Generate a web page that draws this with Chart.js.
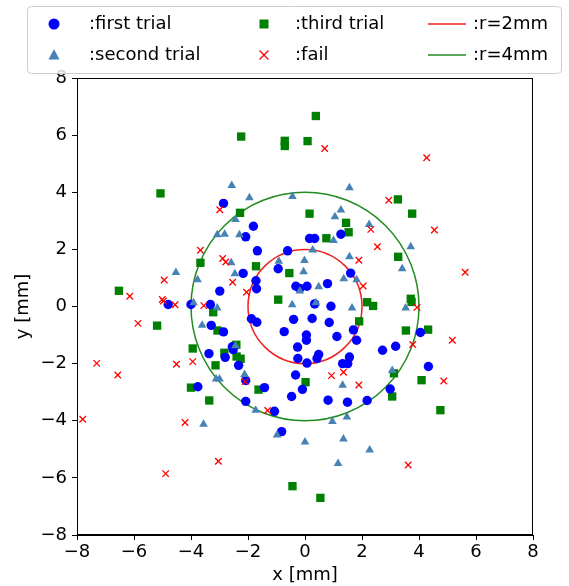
<!DOCTYPE html>
<html>
<head>
<meta charset="utf-8">
<script src="https://cdn.jsdelivr.net/npm/chart.js@4.4.1/dist/chart.umd.min.js"></script>
<style>
  html, body { margin: 0; padding: 0; background: #fff; }
  canvas { display: block; }
</style>
</head>
<body>
<canvas id="chartCanvas" width="569" height="586"></canvas>
<script>
// hit positions [x, y] in mm
const firstTrial = [
    [-2.86, 3.61], [-1.81, 2.81], [-2.08, 2.44], [-1.67, 1.95], [-0.61, 1.95],
    [0.16, 2.38], [0.34, 2.38], [1.26, 2.53], [-0.94, 1.32], [-2.17, 1.16],
    [-1.72, 0.90], [-1.70, 0.62], [-2.99, 0.54], [-0.32, 0.71], [-0.18, 0.63],
    [0.07, 0.71], [0.79, 0.80], [1.60, 1.17], [-4.80, 0.07], [-4.00, 0.07],
    [-3.32, 0.07], [0.34, 0.09], [0.91, 0.01], [-1.88, -0.43], [-1.69, -0.55],
    [-0.40, -0.45], [0.25, -0.42], [0.85, -0.56], [-0.73, -0.88], [0.05, -1.00],
    [0.05, -1.18], [1.12, -1.05], [1.70, -0.82], [1.81, -1.18], [-0.26, -1.42],
    [0.48, -1.68], [0.42, -1.82], [1.56, -1.77], [-0.25, -1.82], [0.07, -1.98],
    [1.32, -2.00], [1.50, -2.00], [2.72, -1.53], [3.18, -1.39], [4.05, -0.91],
    [4.33, -2.10], [-3.29, -0.66], [-2.86, -0.89], [-3.37, -1.65], [-2.55, -1.41],
    [-2.52, -1.51], [-2.80, -1.78], [-2.33, -2.06], [-2.08, -2.59], [-3.76, -2.81],
    [-1.42, -2.84], [-2.08, -3.32], [-1.07, -3.67], [-0.82, -4.38], [-0.33, -2.40],
    [-0.09, -2.90], [-0.47, -3.15], [0.81, -3.28], [1.49, -3.35], [2.18, -3.29],
    [2.99, -2.89]
];

const secondTrial = [
    [-2.57, 4.24], [-1.95, 3.81], [-0.44, 3.85], [-2.44, 3.05], [-3.08, 2.51],
    [-2.82, 2.53], [-2.30, 2.51], [-4.53, 1.19], [-3.77, 0.94], [-2.59, 1.53],
    [-2.46, 1.15], [-0.92, 1.58], [-0.02, 1.61], [-0.05, 1.22], [-0.18, 0.54],
    [-3.91, 0.13], [-3.08, -0.05], [-0.45, 0.06], [0.38, 0.13], [0.48, 0.69],
    [1.56, 4.16], [1.26, 3.38], [1.05, 3.14], [2.25, 2.87], [1.00, 2.31],
    [3.71, 2.09], [0.27, 1.98], [1.56, 1.74], [3.41, 1.32], [1.36, 0.97],
    [1.81, 0.94], [1.65, -0.05], [3.53, -0.05], [1.32, -2.76], [3.06, -2.24],
    [0.96, -4.03], [1.47, -3.87], [1.35, -4.64], [2.27, -5.02], [1.16, -5.50],
    [0.00, -4.74], [-3.61, -0.66], [-2.44, -1.37], [-2.12, -2.38], [-3.12, -2.54],
    [-3.00, -2.54], [-1.73, -3.63], [-3.56, -4.12], [-0.98, -4.50]
];

const thirdTrial = [
    [-2.24, 5.95], [-0.71, 5.80], [-0.71, 5.62], [0.09, 5.79], [0.38, 6.67],
    [-5.07, 3.96], [-2.28, 3.28], [0.16, 3.25], [3.26, 3.75], [3.76, 3.25],
    [1.44, 2.93], [1.53, 2.60], [0.75, 2.39], [-3.67, 1.53], [-1.72, 1.41],
    [-0.55, 1.17], [3.27, 1.74], [-6.53, 0.55], [-0.94, 0.24], [3.71, 0.27],
    [3.74, 0.16], [2.18, 0.15], [2.39, 0.02], [1.90, -0.52], [3.54, -0.84],
    [4.32, -0.81], [3.12, -2.34], [4.09, -2.58], [3.06, -3.15], [4.75, -3.63],
    [0.54, -6.70], [-0.44, -6.29], [-5.19, -0.67], [-3.22, -0.20], [-3.07, -0.84],
    [-3.94, -1.47], [-2.83, -1.62], [-2.41, -1.34], [-2.40, -1.75], [-2.26, -1.83],
    [-3.14, -2.06], [-4.00, -2.84], [-3.36, -3.29], [-1.63, -2.91], [0.02, -2.65]
];

const failed = [
    [-2.99, 3.39], [-3.67, 1.97], [-2.89, 1.68], [-2.78, 1.56], [-4.94, 0.93],
    [-2.54, 0.85], [-2.05, 0.50], [-6.15, 0.36], [-5.01, 0.25], [-4.97, 0.19],
    [-4.56, 0.06], [-3.55, 0.03], [0.69, 5.53], [4.27, 5.21], [2.94, 3.72],
    [4.54, 2.68], [2.31, 2.70], [2.54, 2.09], [1.89, 1.62], [5.62, 1.20],
    [2.04, 0.72], [3.93, -0.03], [5.17, -1.18], [3.78, -1.33], [0.93, -2.42],
    [1.35, -2.30], [1.89, -2.75], [4.87, -2.61], [3.62, -5.55], [-5.86, -0.59],
    [-7.31, -1.99], [-6.57, -2.40], [-4.51, -2.02], [-3.94, -1.93], [-7.80, -3.95],
    [-4.21, -4.06], [-3.04, -5.42], [-4.89, -5.85], [-2.10, -2.63], [-1.31, -3.64]
];

// reference circles around the origin
const radii = [2, 4];
const radiusColors = ['#ee2222', '#228b22'];
const radiusLabels = [':r=2mm', ':r=4mm'];

const axisMin = -8;
const axisMax = 8;
const tickStep = 2;

const FONT = 'DejaVu Sans';

const toPoints = (arr) => arr.map(([x, y]) => ({ x, y }));
const minusFmt = (v) => (v < 0 ? '\u2212' + Math.abs(v) : String(v));

// circles r=2 / r=4, centred on (0,0) using the chart scales
const circlesPlugin = {
    id: 'circles',
    beforeDatasetsDraw(chart) {
        const { ctx, chartArea, scales } = chart;
        const cx = scales.x.getPixelForValue(0);
        const cy = scales.y.getPixelForValue(0);
        ctx.save();
        ctx.beginPath();
        ctx.rect(chartArea.left, chartArea.top, chartArea.right - chartArea.left, chartArea.bottom - chartArea.top);
        ctx.clip();
        radii.forEach((r, i) => {
            const rx = scales.x.getPixelForValue(r) - cx;
            const ry = cy - scales.y.getPixelForValue(r);
            ctx.beginPath();
            ctx.ellipse(cx, cy, rx, ry, 0, 0, Math.PI * 2);
            ctx.strokeStyle = radiusColors[i];
            ctx.lineWidth = 1.5;
            ctx.stroke();
        });
        ctx.restore();
    }
};

// black frame on all four sides
const framePlugin = {
    id: 'frame',
    afterDatasetsDraw(chart) {
        const { ctx, chartArea } = chart;
        ctx.save();
        ctx.strokeStyle = '#000';
        ctx.lineWidth = 1;
        ctx.strokeRect(chartArea.left + 0.5, chartArea.top + 0.5,
            chartArea.right - chartArea.left - 1, chartArea.bottom - chartArea.top - 1);
        ctx.restore();
    }
};

// three-column legend box at the top
const legendPlugin = {
    id: 'legendBox',
    afterDraw(chart) {
        const ctx = chart.ctx;
        ctx.save();
        ctx.beginPath();
        ctx.roundRect(27.5, 6.5, 534, 67, 4);
        ctx.fillStyle = 'rgba(255,255,255,0.8)';
        ctx.fill();
        ctx.strokeStyle = '#cccccc';
        ctx.lineWidth = 1;
        ctx.stroke();

        const rows = [24, 55];
        ctx.font = '18px "' + FONT + '"';
        ctx.textBaseline = 'middle';
        ctx.fillStyle = '#000';

        // column 1
        ctx.beginPath();
        ctx.arc(54, rows[0], 5.5, 0, Math.PI * 2);
        ctx.fillStyle = '#0000ff';
        ctx.fill();
        ctx.beginPath();
        ctx.moveTo(54, rows[1] - 6);
        ctx.lineTo(59.5, rows[1] + 4.5);
        ctx.lineTo(48.5, rows[1] + 4.5);
        ctx.closePath();
        ctx.fillStyle = '#4682b4';
        ctx.fill();
        ctx.fillStyle = '#000';
        ctx.fillText(':first trial', 89, rows[0]);
        ctx.fillText(':second trial', 89, rows[1]);

        // column 2
        ctx.fillStyle = '#008000';
        ctx.fillRect(259.5, rows[0] - 4.5, 9, 9);
        ctx.beginPath();
        ctx.moveTo(259.5, rows[1] - 4.5);
        ctx.lineTo(268.5, rows[1] + 4.5);
        ctx.moveTo(268.5, rows[1] - 4.5);
        ctx.lineTo(259.5, rows[1] + 4.5);
        ctx.strokeStyle = '#ff0000';
        ctx.lineWidth = 1.3;
        ctx.stroke();
        ctx.fillStyle = '#000';
        ctx.fillText(':third trial', 295, rows[0]);
        ctx.fillText(':fail', 295, rows[1]);

        // column 3
        radiusLabels.forEach((label, i) => {
            ctx.beginPath();
            ctx.moveTo(428, rows[i]);
            ctx.lineTo(466, rows[i]);
            ctx.strokeStyle = radiusColors[i];
            ctx.lineWidth = 1.5;
            ctx.stroke();
            ctx.fillStyle = '#000';
            ctx.fillText(label, 473, rows[i]);
        });
        ctx.restore();
    }
};

const axisCommon = {
    type: 'linear',
    min: axisMin,
    max: axisMax,
    ticks: {
        stepSize: tickStep,
        color: '#000',
        font: { family: FONT, size: 18 },
        callback: minusFmt
    },
    grid: {
        drawOnChartArea: false,
        drawTicks: true,
        tickLength: 5,
        color: '#000',
        lineWidth: 1
    },
    border: { display: true, color: '#000', width: 1 }
};

const canvas = document.getElementById('chartCanvas');
const ctx = canvas.getContext('2d');

new Chart(ctx, {
    type: 'scatter',
    data: {
        datasets: [
            {
                label: ':fail',
                data: toPoints(failed),
                pointStyle: 'crossRot',
                pointRadius: 4.6,
                pointBorderColor: '#ff0000',
                pointBorderWidth: 1.3,
                order: 0
            },
            {
                label: ':second trial',
                data: toPoints(secondTrial),
                pointStyle: 'triangle',
                pointRadius: 5,
                pointBackgroundColor: '#4682b4',
                pointBorderWidth: 0,
                order: 1
            },
            {
                label: ':first trial',
                data: toPoints(firstTrial),
                pointStyle: 'circle',
                pointRadius: 4.7,
                pointBackgroundColor: '#0000ff',
                pointBorderWidth: 0,
                order: 2
            },
            {
                label: ':third trial',
                data: toPoints(thirdTrial),
                pointStyle: 'rect',
                pointRadius: 5.9,
                pointBackgroundColor: '#008000',
                pointBorderWidth: 0,
                order: 3
            }
        ]
    },
    options: {
        responsive: false,
        devicePixelRatio: 1,
        animation: false,
        layout: { padding: { top: 78, right: 36, left: 0, bottom: 0 } },
        plugins: {
            legend: { display: false },
            tooltip: { enabled: false }
        },
        scales: {
            x: {
                ...axisCommon,
                position: 'bottom',
                ticks: { ...axisCommon.ticks, padding: 2, maxRotation: 0 },
                title: {
                    display: true,
                    text: 'x [mm]',
                    color: '#000',
                    font: { family: FONT, size: 18 },
                    padding: 0
                },
                afterFit(scale) { scale.height = 51; }
            },
            y: {
                ...axisCommon,
                position: 'left',
                ticks: { ...axisCommon.ticks, padding: 5 },
                title: {
                    display: true,
                    text: 'y [mm]',
                    color: '#000',
                    font: { family: FONT, size: 18 },
                    padding: { top: 13, bottom: 0 }
                },
                afterFit(scale) { scale.width = 77; }
            }
        }
    },
    plugins: [circlesPlugin, framePlugin, legendPlugin]
});
</script>
</body>
</html>
